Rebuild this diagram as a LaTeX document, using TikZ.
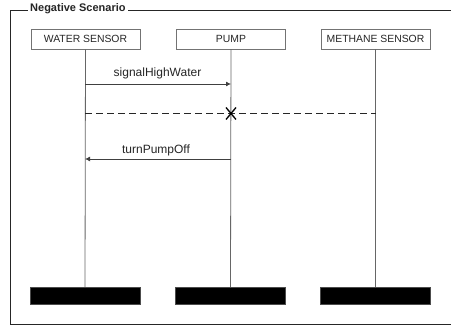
\documentclass[tikz,border=0pt]{standalone}
\usepackage{fontspec}
\setmainfont{Liberation Sans}
\usetikzlibrary{arrows.meta,calc}
\begin{document}
\begin{tikzpicture}[x=1pt,y=-1pt,
  head/.style={draw=black!55,line width=0.8pt,minimum width=109pt,minimum height=20pt,inner sep=0pt,font=\fontsize{10.4}{12}\selectfont,text=black!85},
  bar/.style={fill=black,draw=black!70,line width=0.4pt,minimum width=110pt,minimum height=17pt,inner sep=0pt},
  life/.style={draw=black!60,line width=0.8pt},
  msg/.style={draw=black!75,line width=0.8pt,-{Latex[length=5pt,width=5pt]}},
  lbl/.style={font=\fontsize{12}{14}\selectfont,text=black!85,inner sep=0pt}]
\useasboundingbox (0,0) rectangle (451,326);
\fill[white] (0,0) rectangle (451,326);
% frame
\draw[black!85,line width=0.9pt] (451,10) -- (10,10) -- (10,324) -- (451,324);
\node[fill=white,inner xsep=2pt,inner ysep=1pt,anchor=west,font=\bfseries\fontsize{11}{13}\selectfont,text=black!85] (title) at (28,9) {Negative Scenario};
% heads
\node[head] (ws) at (85.5,39) {WATER SENSOR};
\node[head] (pu) at (231,39) {PUMP};
\node[head] (ms) at (375.5,39) {METHANE SENSOR};
% bars
\node[bar] (wsb) at (85,295.5) {};
\node[bar] (pub) at (230.5,295.5) {};
\node[bar] (msb) at (375.5,295.5) {};
% lifelines
\draw[life] (ws.south) -- (wsb.north);
\draw[life] (pu.south) -- (pub.north);
\draw[life] (ms.south) -- (msb.north);
% messages
\coordinate (m1s) at (85,84);
\coordinate (m1e) at (231,84);
\draw[msg] (m1s) -- (m1e);
\node[lbl] (l1) at (157.5,73.5) {signalHighWater};
\coordinate (dS) at (85,113.5);
\coordinate (dX) at (231,113.5);
\coordinate (dE) at (376,113.5);
\draw[black!85,line width=0.8pt,dash pattern=on 7pt off 4pt] (dS) -- (dE);
\draw[black,line width=1.3pt] ($(dX)+(-5,-6)$) -- ($(dX)+(5,6)$) ($(dX)+(5,-6)$) -- ($(dX)+(-5,6)$);
\coordinate (m2s) at (231,159);
\coordinate (m2e) at (85,159);
\draw[msg] (m2s) -- (m2e);
\node[lbl] (l2) at (156,150) {turnPumpOff};
\end{tikzpicture}
\end{document}
